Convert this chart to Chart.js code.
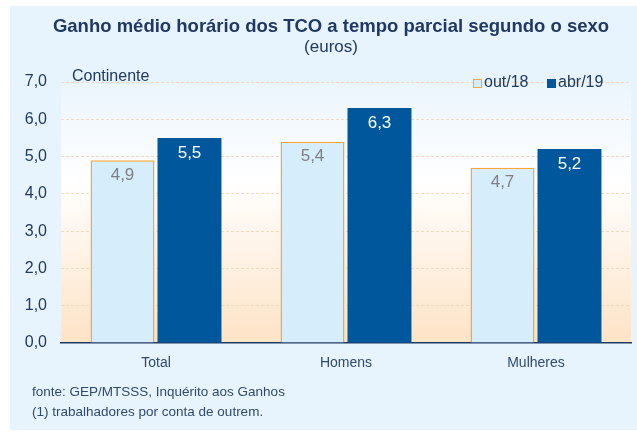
<!DOCTYPE html>
<html>
<head>
<meta charset="utf-8">
<script src="https://cdn.jsdelivr.net/npm/chart.js@4/dist/chart.umd.min.js"></script>
<style>
  body { margin: 0; background: #fff; }
  #wrap { width: 637px; height: 434px; }
</style>
</head>
<body>
<div id="wrap"><canvas id="ganho" width="637" height="434"></canvas></div>
<script>
// dados
const categories = ['Total', 'Homens', 'Mulheres'];
const out18 = [4.9, 5.4, 4.7];
const abr19 = [5.5, 6.3, 5.2];
const seriesNames = ['out/18', 'abr/19'];
const yMax = 7;
const yStep = 1;

const FONT = '"Liberation Sans", Arial, sans-serif';
const NAVY = '#1F3864';
const fmt = v => v.toFixed(1).replace('.', ',');

// painel, gradiente, textos e legenda
const decor = {
  id: 'decor',
  beforeDraw(chart) {
    const ctx = chart.ctx;
    const a = chart.chartArea;
    ctx.save();
    ctx.fillStyle = '#E8F4FD';
    ctx.fillRect(10, 6, 627, 424);
    const g = ctx.createLinearGradient(0, a.top, 0, a.bottom);
    g.addColorStop(0, '#EBF5FD');
    g.addColorStop(0.38, '#FFFFFF');
    g.addColorStop(1, '#FDE3C6');
    ctx.fillStyle = g;
    ctx.fillRect(a.left, a.top, a.right - a.left, a.bottom - a.top);
    ctx.restore();
  },
  afterDraw(chart) {
    const ctx = chart.ctx;
    ctx.save();
    ctx.fillStyle = NAVY;
    ctx.textAlign = 'center';
    ctx.textBaseline = 'middle';
    ctx.font = 'bold 18.5px ' + FONT;
    ctx.fillText('Ganho médio horário dos TCO a tempo parcial segundo o sexo', 331, 27);
    ctx.font = '17px ' + FONT;
    ctx.fillText('(euros)', 331, 47);

    ctx.textAlign = 'left';
    ctx.font = '16px ' + FONT;
    ctx.fillText('Continente', 72, 77);

    // legenda
    ctx.fillStyle = '#D6EDFC';
    ctx.fillRect(473, 79, 8, 8);
    ctx.strokeStyle = '#F6A83C';
    ctx.lineWidth = 1;
    ctx.strokeRect(473.5, 79.5, 8, 8);
    ctx.fillStyle = NAVY;
    ctx.fillText(seriesNames[0], 484, 83);
    ctx.fillStyle = '#00579C';
    ctx.fillRect(547, 79, 9, 9);
    ctx.fillStyle = NAVY;
    ctx.fillText(seriesNames[1], 558, 83);

    // notas
    ctx.font = '13.5px ' + FONT;
    ctx.fillStyle = '#2F4A6E';
    ctx.fillText('fonte: GEP/MTSSS, Inquérito aos Ganhos', 32, 392);
    ctx.fillText('(1) trabalhadores por conta de outrem.', 32, 412);

    // valores nas barras
    ctx.textAlign = 'center';
    ctx.font = '17px ' + FONT;
    chart.data.datasets.forEach((ds, i) => {
      chart.getDatasetMeta(i).data.forEach((bar, j) => {
        ctx.fillStyle = i === 0 ? '#808080' : '#FFFFFF';
        ctx.fillText(fmt(ds.data[j]), bar.x, bar.y + 15);
      });
    });
    ctx.restore();
  }
};

const data = {
  labels: categories,
  datasets: [{
    label: seriesNames[0],
    data: out18,
    backgroundColor: '#D6EDFC',
    borderColor: '#F6A83C',
    borderWidth: 1.5,
    categoryPercentage: 0.705,
    barPercentage: 0.955
  },
  {
    label: seriesNames[1],
    data: abr19,
    backgroundColor: '#00579C',
    borderColor: '#00579C',
    borderWidth: 0,
    categoryPercentage: 0.705,
    barPercentage: 0.955
  }]
};

const config = {
  type: 'bar',
  data: data,
  options: {
    responsive: false,
    animation: false,
    layout: { padding: { left: 10, right: 6, top: 82, bottom: 0 } },
    scales: {
      x: {
        grid: { display: false },
        border: { color: NAVY, width: 1.5 },
        ticks: { color: '#2F4A6E', font: { family: FONT, size: 14 }, padding: 4 },
        afterFit(scale) { scale.height = 91; }
      },
      y: {
        min: 0,
        max: yMax,
        ticks: {
          stepSize: yStep,
          color: NAVY,
          font: { family: FONT, size: 16 },
          padding: 14,
          callback: v => fmt(v)
        },
        grid: {
          color: ctx => ctx.tick.value === 0 ? 'rgba(0,0,0,0)' : '#F4D9BD',
          drawTicks: false
        },
        border: { display: false, dash: [3, 2] },
        afterFit(scale) { scale.width = 51; }
      }
    },
    plugins: {
      legend: { display: false },
      tooltip: { enabled: false }
    }
  },
  plugins: [decor]
};

const ganhoChart = new Chart(document.getElementById('ganho').getContext('2d'), config);
</script>
</body>
</html>
